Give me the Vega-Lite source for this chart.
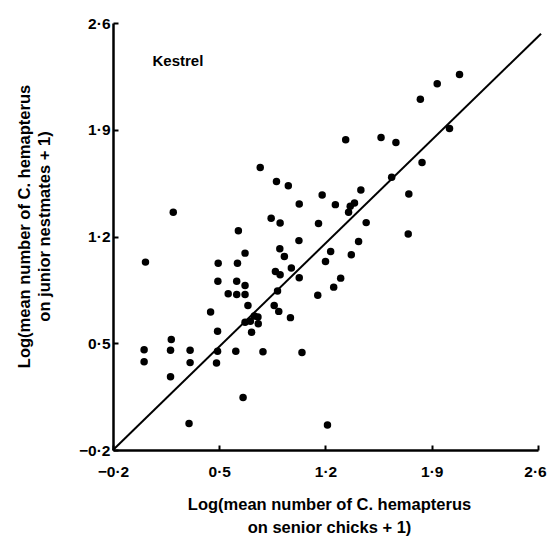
{
  "$schema": "https://vega.github.io/schema/vega-lite/v6.json",
  "width": 425,
  "height": 427,
  "autosize": {"type": "none"},
  "padding": {"left": 113, "top": 23, "right": 10, "bottom": 88},
  "background": "white",
  "config": {
    "view": {"stroke": null},
    "font": "Liberation Sans",
    "axis": {
      "grid": false,
      "domainColor": "black",
      "domainWidth": 2.5,
      "tickColor": "black",
      "tickWidth": 2,
      "tickSize": -5,
      "labelColor": "black",
      "labelFont": "Liberation Sans",
      "labelFontSize": 15.5,
      "labelFontWeight": "bold",
      "labelFlush": false,
      "labelOverlap": false,
      "titleColor": "black",
      "titleFont": "Liberation Sans",
      "titleFontSize": 16.5,
      "titleFontWeight": "bold"
    }
  },
  "layer": [
    {
      "data": {
        "values": [
          {"x": 2.083, "y": 2.263}, {"x": 1.936, "y": 2.202}, {"x": 1.825, "y": 2.100}, {"x": 2.017, "y": 1.908},
          {"x": 1.333, "y": 1.834}, {"x": 1.566, "y": 1.849}, {"x": 1.664, "y": 1.817}, {"x": 1.836, "y": 1.686},
          {"x": 0.770, "y": 1.653}, {"x": 0.877, "y": 1.561}, {"x": 0.955, "y": 1.533}, {"x": 1.636, "y": 1.588},
          {"x": 1.433, "y": 1.505}, {"x": 1.178, "y": 1.472}, {"x": 1.749, "y": 1.479}, {"x": 1.027, "y": 1.413},
          {"x": 1.265, "y": 1.409}, {"x": 1.391, "y": 1.420}, {"x": 1.363, "y": 1.398}, {"x": 1.352, "y": 1.359},
          {"x": 0.197, "y": 1.359}, {"x": 0.842, "y": 1.320}, {"x": 0.901, "y": 1.289}, {"x": 1.154, "y": 1.285},
          {"x": 1.468, "y": 1.291}, {"x": 0.626, "y": 1.237}, {"x": 1.745, "y": 1.217}, {"x": 1.025, "y": 1.173},
          {"x": 1.418, "y": 1.167}, {"x": 0.899, "y": 1.119}, {"x": 0.670, "y": 1.091}, {"x": 1.234, "y": 1.102},
          {"x": 0.929, "y": 1.069}, {"x": 1.370, "y": 1.080}, {"x": 0.014, "y": 1.032}, {"x": 0.493, "y": 1.025},
          {"x": 0.620, "y": 1.025}, {"x": 1.200, "y": 1.036}, {"x": 0.975, "y": 0.993}, {"x": 0.870, "y": 0.971},
          {"x": 0.901, "y": 0.949}, {"x": 1.027, "y": 0.929}, {"x": 1.300, "y": 0.927}, {"x": 0.491, "y": 0.907},
          {"x": 0.615, "y": 0.907}, {"x": 0.670, "y": 0.879}, {"x": 1.254, "y": 0.868}, {"x": 0.884, "y": 0.842},
          {"x": 0.559, "y": 0.825}, {"x": 0.615, "y": 0.820}, {"x": 0.670, "y": 0.820}, {"x": 1.149, "y": 0.814},
          {"x": 0.689, "y": 0.748}, {"x": 0.862, "y": 0.748}, {"x": 0.443, "y": 0.705}, {"x": 0.892, "y": 0.709},
          {"x": 0.731, "y": 0.679}, {"x": 0.755, "y": 0.672}, {"x": 0.969, "y": 0.668}, {"x": 0.670, "y": 0.637},
          {"x": 0.705, "y": 0.644}, {"x": 0.757, "y": 0.628}, {"x": 0.489, "y": 0.578}, {"x": 0.713, "y": 0.572},
          {"x": 0.184, "y": 0.524}, {"x": 0.005, "y": 0.458}, {"x": 0.179, "y": 0.454}, {"x": 0.308, "y": 0.454},
          {"x": 0.489, "y": 0.447}, {"x": 0.609, "y": 0.447}, {"x": 0.788, "y": 0.445}, {"x": 1.045, "y": 0.439},
          {"x": 0.005, "y": 0.378}, {"x": 0.308, "y": 0.373}, {"x": 0.482, "y": 0.371}, {"x": 0.179, "y": 0.280},
          {"x": 0.657, "y": 0.144}, {"x": 0.301, "y": -0.026}, {"x": 1.213, "y": -0.036}
        ]
      },
      "mark": {"type": "circle", "size": 56, "color": "black", "opacity": 1},
      "encoding": {
        "x": {
          "field": "x",
          "type": "quantitative",
          "scale": {"domain": [-0.2, 2.6], "nice": false, "zero": false},
          "axis": {
            "values": [-0.2, 0.5, 1.2, 1.9, 2.6],
            "labelExpr": "replace(format(datum.value, '.1f'), '.', '·')",
            "labelPadding": 19,
            "labelOffset": {"condition": {"test": "datum.value >= 2.6", "value": -3}, "value": 0},
            "title": ["Log(mean number of C. hemapterus", "on senior chicks + 1)"],
            "titleLineHeight": 23,
            "titleX": 216,
            "titleY": 46,
            "titleAlign": "center",
            "titleBaseline": "top"
          }
        },
        "y": {
          "field": "y",
          "type": "quantitative",
          "scale": {"domain": [-0.2, 2.6], "nice": false, "zero": false},
          "axis": {
            "values": [-0.2, 0.5, 1.2, 1.9, 2.6],
            "labelExpr": "replace(format(datum.value, '.1f'), '.', '·')",
            "labelPadding": 8,
            "title": ["Log(mean number of C. hemapterus", "on junior nestmates + 1)"],
            "titleLineHeight": 20,
            "titleAngle": -90,
            "titleX": -89,
            "titleY": 203,
            "titleAlign": "center",
            "titleBaseline": "middle"
          }
        }
      }
    },
    {
      "data": {"values": [{"x": -0.2, "y": -0.2}, {"x": 2.62, "y": 2.53}]},
      "mark": {"type": "line", "color": "black", "strokeWidth": 2},
      "encoding": {
        "x": {"field": "x", "type": "quantitative"},
        "y": {"field": "y", "type": "quantitative"}
      }
    },
    {
      "data": {"values": [{"x": 0.06, "y": 2.35, "label": "Kestrel"}]},
      "mark": {"type": "text", "align": "left", "baseline": "middle", "fontSize": 15, "fontWeight": "bold", "font": "Liberation Sans", "color": "black"},
      "encoding": {
        "x": {"field": "x", "type": "quantitative"},
        "y": {"field": "y", "type": "quantitative"},
        "text": {"field": "label"}
      }
    }
  ]
}
